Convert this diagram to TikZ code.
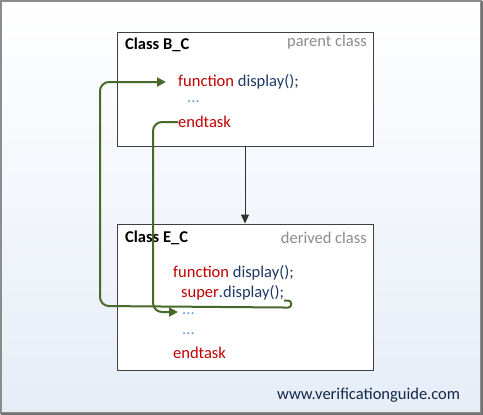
\documentclass[tikz,border=0pt]{standalone}
\usepackage{fontspec}
\setmainfont{Carlito}
\usepackage{tikz}
\usetikzlibrary{arrows.meta}
\definecolor{kwred}{HTML}{C00000}
\definecolor{fnblue}{HTML}{1F3864}
\definecolor{dotblue}{HTML}{5B9BD5}
\definecolor{tagray}{HTML}{8C8C8C}
\definecolor{flowgreen}{HTML}{476A2A}
\definecolor{bgblue}{HTML}{E6EDF7}
\definecolor{webnavy}{HTML}{14284B}

\tikzset{
  classbox/.style={draw=black!75,fill=white,line width=0.9pt,inner sep=0pt},
  code/.style={anchor=west,inner sep=0pt,font=\fontsize{16.5}{19}\selectfont},
  title/.style={anchor=west,inner sep=0pt,font=\fontsize{16.5}{19}\selectfont\bfseries},
  tag/.style={anchor=east,inner sep=0pt,text=tagray,font=\fontsize{16.5}{19}\selectfont},
  flow/.style={draw=flowgreen,line width=2pt,-{Triangle[length=9pt,width=9pt]}},
}

\begin{document}
\begin{tikzpicture}[x=1pt,y=-1pt]
    \useasboundingbox (0,0) rectangle (483,415);
    \shade[top color=white,bottom color=bgblue] (0,0) rectangle (483,415);
    \draw[black!45,line width=1.2pt] (1,1) rectangle (481,413);
    \draw[black!55,line width=2pt] (482,1) -- (482,414) -- (1,414);
    % the two classes
    \node[classbox,minimum width=256pt,minimum height=114pt] (bc) at (245,89) {};
    \node[classbox,minimum width=256pt,minimum height=146pt] (ec) at (245,297) {};
    \draw[black!80,line width=1pt,-{Triangle[length=9pt,width=8pt]}] (bc.south) -- (ec.north);
    % parent class
    \node[title] (bct) at (125,45) {Class B\_C};
    \node[tag] (bcg) at (367,42) {parent class};
    \node[code] (fn1) at (178,82) {\textcolor{kwred}{function} \textcolor{fnblue}{display();}};
    \node[code,text=dotblue] (dt1) at (187,102) {...};
    \node[code,text=kwred] (et1) at (178,122) {endtask};
    % derived class
    \node[title] (ect) at (125,238) {Class E\_C};
    \node[tag] (ecg) at (367,238) {derived class};
    \node[code] (fn2) at (173,273) {\textcolor{kwred}{function} \textcolor{fnblue}{display();}};
    \node[code] (sup) at (181,293) {\textcolor{kwred}{super}\textcolor{fnblue}{.display();}};
    \node[code,text=dotblue] (dt2) at (182,314) {...};
    \node[code,text=dotblue] (dt3) at (182,334) {...};
    \node[code,text=kwred] (et2) at (173,353) {endtask};
    % call flow
    \draw[flow,shorten >=12pt] (sup.south east) [rounded corners=3pt] -- ++(7,0) -- ++(0,7)
      [rounded corners=9pt] -- (100,306) |- (fn1.west);
    \draw[flow,rounded corners=9pt,shorten >=4pt] (et1.west) -- ++(-25,0) |- ([yshift=2pt]dt2.west);
    \node[code,text=webnavy] (web) at (277,395) {www.verificationguide.com};
\end{tikzpicture}
\end{document}
